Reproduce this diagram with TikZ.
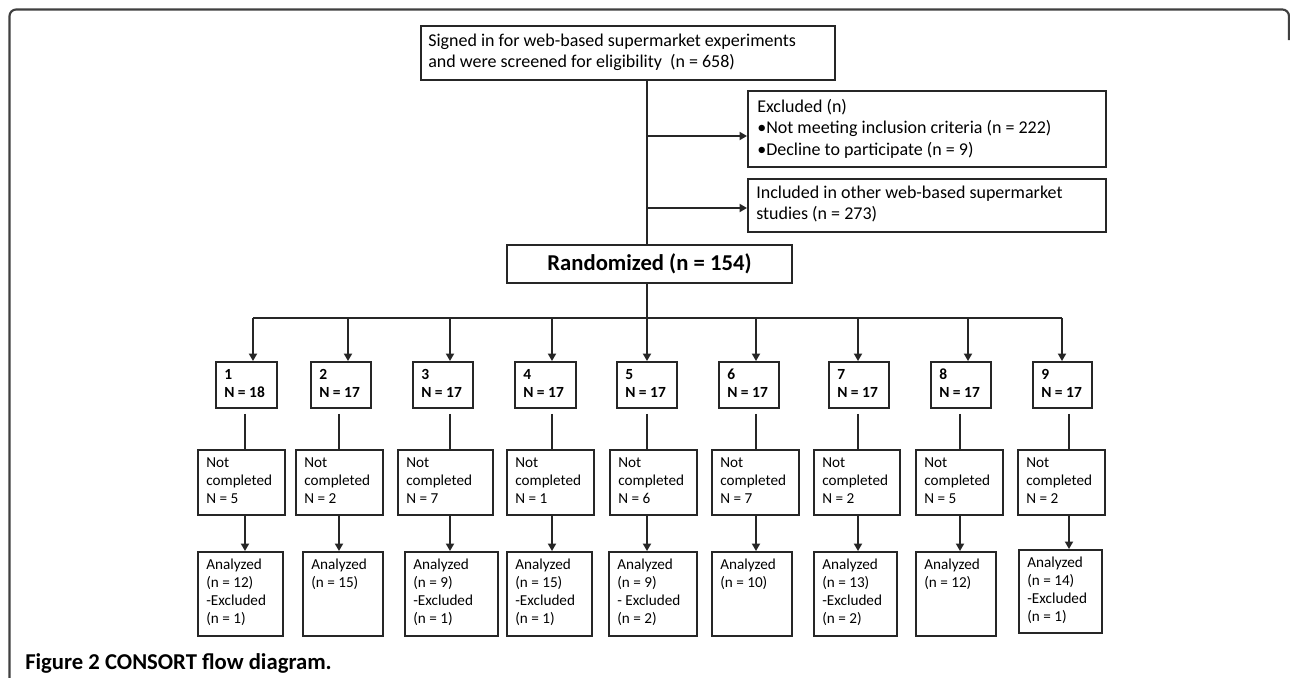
\documentclass[tikz,border=0pt]{standalone}
\usepackage{fontspec}
\setmainfont{Carlito}
\usetikzlibrary{arrows.meta,fit}
\tikzset{
  box/.style={draw=black!85, line width=1.45pt, inner sep=0pt},
  conn/.style={draw=black!85, line width=1.35pt},
  arr/.style={conn, -{Triangle[length=5.6pt,width=6pt]}},
  rtxt/.style={inner sep=0pt, anchor=north west, align=left, text=black, font=\fontsize{11.4}{13.5}\selectfont},
  btxt/.style={rtxt, font=\fontsize{11.6}{13.5}\selectfont\bfseries},
  ttxt/.style={inner sep=0pt, anchor=north west, align=left, text=black, font=\fontsize{13.5}{16.1}\selectfont},
  frame/.style={draw=black!75, line width=1.6pt, rounded corners=5pt}
}
\newcommand\bx[7]{%
  \node[box, fit={(#3,#4) (#5,#6)}] (#2) {};
  \node[#1] (#2t) at ([shift={(9,5.9)}]#2.north west) {\strut #7};
}
\begin{document}
\begin{tikzpicture}[x=0.75pt,y=-0.75pt]
\useasboundingbox (0,0) rectangle (1290,678);
\fill[white] (0,0) rectangle (1290,678);
\draw[frame] (9.5,678) -- (9.5,9.5) -- (1289,9.5) -- (1289,40);

% top part
\node[box, fit={(421,26) (835,80)}] (T) {};
\node[ttxt] (Tt) at ([shift={(8,6)}]T.north west) {\strut Signed in for web-based supermarket experiments\\and were screened for eligibility\ \ (n = 658)};
\node[box, fit={(748,91) (1106,167)}] (E) {};
\node[ttxt] (Et) at ([shift={(10,7)}]E.north west) {\strut Excluded (n)\\•Not meeting inclusion criteria (n = 222)\\•Decline to participate (n = 9)};
\node[box, fit={(748,179) (1106,232)}] (I) {};
\node[ttxt] (It) at ([shift={(9,5)}]I.north west) {\strut Included in other web-based supermarket\\studies (n = 273)};
\node[box, fit={(507,245) (792,283)}] (R) {};
\node[inner sep=0pt, text=black, font=\fontsize{17}{20}\selectfont\bfseries] (Rt) at (R.center) {Randomized (n = 154)};

\coordinate (tk) at (647,0);
\coordinate (e0) at (647,136);
\coordinate (i0) at (647,208);
\draw[conn] (T.south -| tk) -- (R.north -| tk);
\draw[arr] (e0) -- (e0 -| E.west);
\draw[arr] (i0) -- (i0 -| I.west);

% row 1
\bx{btxt}{a1}{216}{362}{277}{408}{1\\N = 18}
\bx{btxt}{a2}{311}{362}{371}{408}{2\\N = 17}
\bx{btxt}{a3}{413}{362}{473}{408}{3\\N = 17}
\bx{btxt}{a4}{515}{362}{576}{408}{4\\N = 17}
\bx{btxt}{a5}{617}{362}{677}{408}{5\\N = 17}
\bx{btxt}{a6}{719}{362}{779}{408}{6\\N = 17}
\bx{btxt}{a7}{829}{362}{889}{408}{7\\N = 17}
\bx{btxt}{a8}{931}{362}{991}{408}{8\\N = 17}
\bx{btxt}{a9}{1033}{362}{1092}{408}{9\\N = 17}

% row 2
\bx{rtxt}{b1}{198}{450}{285}{515}{Not\\completed\\N = 5}
\bx{rtxt}{b2}{296}{450}{383}{515}{Not\\completed\\N = 2}
\bx{rtxt}{b3}{398}{450}{493}{515}{Not\\completed\\N = 7}
\bx{rtxt}{b4}{507}{450}{594}{515}{Not\\completed\\N = 1}
\bx{rtxt}{b5}{610}{450}{697}{515}{Not\\completed\\N = 6}
\bx{rtxt}{b6}{712}{450}{799}{515}{Not\\completed\\N = 7}
\bx{rtxt}{b7}{814}{450}{900}{515}{Not\\completed\\N = 2}
\bx{rtxt}{b8}{916}{450}{1003}{515}{Not\\completed\\N = 5}
\bx{rtxt}{b9}{1018}{450}{1105}{515}{Not\\completed\\N = 2}

% row 3
\bx{rtxt}{c1}{198}{552}{283}{636}{Analyzed\\(n = 12)\\-Excluded\\(n = 1)}
\bx{rtxt}{c2}{303}{552}{383}{636}{Analyzed\\(n = 15)}
\bx{rtxt}{c3}{405}{552}{498}{636}{Analyzed\\(n = 9)\\-Excluded\\(n = 1)}
\bx{rtxt}{c4}{507}{552}{592}{636}{Analyzed\\(n = 15)\\-Excluded\\(n = 1)}
\bx{rtxt}{c5}{609}{552}{697}{636}{Analyzed\\(n = 9)\\- Excluded\\(n = 2)}
\bx{rtxt}{c6}{712}{552}{792}{636}{Analyzed\\(n = 10)}
\bx{rtxt}{c7}{814}{552}{897}{636}{Analyzed\\(n = 13)\\-Excluded\\(n = 2)}
\bx{rtxt}{c8}{916}{552}{996}{636}{Analyzed\\(n = 12)}
\bx{rtxt}{c9}{1019}{550}{1102}{633}{Analyzed\\(n = 14)\\-Excluded\\(n = 1)}

% bus and arrows into row 1
\coordinate (p1) at (253,318);
\coordinate (p2) at (348,318);
\coordinate (p3) at (450,318);
\coordinate (p4) at (552,318);
\coordinate (p5) at (647,318);
\coordinate (p6) at (756,318);
\coordinate (p7) at (858,318);
\coordinate (p8) at (968,318);
\coordinate (p9) at (1062,318);
\draw[conn] (R.south -| p5) -- (p5);
\draw[conn] (p1) -- (p9);
\foreach \k in {1,...,9} {\draw[arr] (p\k) -- (p\k |- a\k.north);}

% columns below
\coordinate (q1) at (245,0);
\coordinate (q2) at (339,0);
\coordinate (q3) at (450,0);
\coordinate (q4) at (552,0);
\coordinate (q5) at (647,0);
\coordinate (q6) at (756,0);
\coordinate (q7) at (858,0);
\coordinate (q8) at (960,0);
\coordinate (q9) at (1069,0);
\foreach \k in {1,...,9} {
  \draw[conn, shorten <=3.75pt] (a\k.south -| q\k) -- (b\k.north -| q\k);
  \draw[arr] (b\k.south -| q\k) -- (c\k.north -| q\k);
}

\node[anchor=base west, inner sep=0pt, text=black, font=\fontsize{17}{20}\selectfont\bfseries] (cap) at (25,669) {Figure 2 CONSORT flow diagram.};
\end{tikzpicture}
\end{document}
